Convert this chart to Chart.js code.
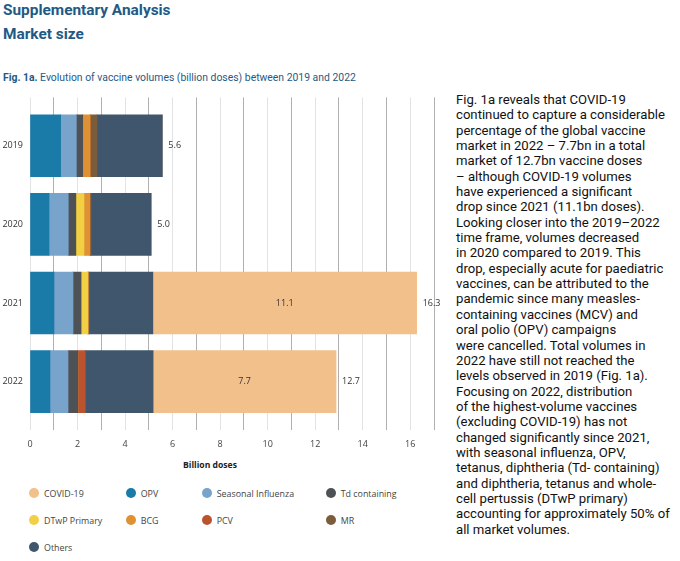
<!DOCTYPE html>
<html>
<head>
<meta charset="utf-8">
<script src="https://cdn.jsdelivr.net/npm/chart.js@4"></script>
<style>
  body { margin: 0; background: #fff; width: 680px; height: 561px; position: relative; overflow: hidden; font-family: Roboto, sans-serif; }
  .head { position: absolute; left: 3px; color: #1f5a86; font-weight: bold; font-size: 15.4px; line-height: 15px; white-space: nowrap; }
  #caption { position: absolute; left: 3px; top: 72px; color: #1f5a86; font-size: 10.4px; line-height: 12px; white-space: nowrap; }
  #chart { position: absolute; left: 0; top: 85px; }
  #axisTitle { position: absolute; left: 160px; width: 100px; top: 459px; text-align: center; font: bold 8.6px "Open Sans", sans-serif; color: #222; }
  #legend { position: absolute; left: 29px; top: 487px; display: grid; grid-template-columns: 96.7px 76px 124px 120px; grid-auto-rows: 27px; font: 8.9px "Open Sans", sans-serif; color: #444; }
  #legend div { display: flex; align-items: center; height: 12px; white-space: nowrap; }
  #legend span { width: 10px; height: 10px; border-radius: 50%; margin-right: 5px; flex: none; }
  #text { position: absolute; left: 456px; top: 92px; font-size: 13.15px; line-height: 15.35px; color: #111; white-space: nowrap; }
</style>
</head>
<body>
<div class="head" style="top:3px">Supplementary Analysis</div>
<div class="head" style="top:27px">Market size</div>
<div id="caption"><b>Fig. 1a.</b> Evolution of vaccine volumes (billion doses) between 2019 and 2022</div>
<canvas id="chart" width="452" height="372"></canvas>
<div id="axisTitle">Billion doses</div>
<div id="legend"></div>
<div id="text">Fig. 1a reveals that COVID-19<br>continued to capture a considerable<br>percentage of the global vaccine<br>market in 2022 – 7.7bn in a total<br>market of 12.7bn vaccine doses<br>– although COVID-19 volumes<br>have experienced a significant<br>drop since 2021 (11.1bn doses).<br>Looking closer into the 2019–2022<br>time frame, volumes decreased<br>in 2020 compared to 2019. This<br>drop, especially acute for paediatric<br>vaccines, can be attributed to the<br>pandemic since many measles-<br>containing vaccines (MCV) and<br>oral polio (OPV) campaigns<br>were cancelled. Total volumes in<br>2022 have still not reached the<br>levels observed in 2019 (Fig. 1a).<br>Focusing on 2022, distribution<br>of the highest-volume vaccines<br>(excluding COVID-19) has not<br>changed significantly since 2021,<br>with seasonal influenza, OPV,<br>tetanus, diphtheria (Td- containing)<br>and diphtheria, tetanus and whole-<br>cell pertussis (DTwP primary)<br>accounting for approximately 50% of<br>all market volumes.</div>
<script>
// values in billion doses
const years = ['2019', '2020', '2021', '2022'];
const opv = [1.29, 0.80, 1.01, 0.84];
const flu = [0.66, 0.81, 0.80, 0.76];
const td = [0.27, 0.32, 0.34, 0.41];
const dtwp = [0, 0.34, 0.29, 0];
const bcg = [0.31, 0.25, 0, 0];
const pcv = [0, 0, 0, 0.31];
const mr = [0.29, 0.05, 0.05, 0];
const others = [2.75, 2.53, 2.68, 2.86];
const covid = [0, 0, 11.1, 7.7];
const totals = [5.6, 5.0, 16.3, 12.7];

// stacking order, left to right
const series = [
    { label: 'OPV', data: opv, color: '#1a7aa8' },
    { label: 'Seasonal Influenza', data: flu, color: '#78a3cb' },
    { label: 'Td containing', data: td, color: '#4e5257' },
    { label: 'DTwP Primary', data: dtwp, color: '#f3cf43' },
    { label: 'BCG', data: bcg, color: '#df9234' },
    { label: 'PCV', data: pcv, color: '#bb532f' },
    { label: 'MR', data: mr, color: '#7b5c3b' },
    { label: 'Others', data: others, color: '#3f566d' },
    { label: 'COVID-19', data: covid, color: '#f2c08a' },
];
const legendOrder = ['COVID-19', 'OPV', 'Seasonal Influenza', 'Td containing', 'DTwP Primary', 'BCG', 'PCV', 'MR', 'Others'];

const font = '"Open Sans", sans-serif';

// segment value inside the COVID bar, total at the end of each bar
const valueLabels = {
    id: 'valueLabels',
    afterDatasetsDraw(chart) {
        const ctx = chart.ctx;
        const meta = chart.getDatasetMeta(chart.data.datasets.length - 1);
        ctx.save();
        ctx.font = '9px ' + font;
        ctx.fillStyle = '#333';
        ctx.textBaseline = 'middle';
        meta.data.forEach((bar, i) => {
            if (covid[i] > 0) {
                ctx.textAlign = 'center';
                ctx.fillText(covid[i].toFixed(1), (bar.x + bar.base) / 2, bar.y);
            }
            ctx.textAlign = 'left';
            ctx.fillText(totals[i].toFixed(1), bar.x + 6, bar.y);
        });
        ctx.restore();
    }
};

new Chart(document.getElementById('chart'), {
    type: 'bar',
    data: {
        datasets: series.map(s => ({
            label: s.label,
            data: s.data.map((v, i) => ({ x: v, y: i })),
            backgroundColor: s.color,
            borderWidth: 0,
            stack: 'total',
            barThickness: 62,
        })),
    },
    options: {
        indexAxis: 'y',
        responsive: false,
        animation: false,
        layout: { padding: { top: 8, right: 18, left: 0, bottom: 0 } },
        plugins: { legend: { display: false }, tooltip: { enabled: false } },
        scales: {
            x: {
                type: 'linear',
                stacked: true,
                min: 0,
                max: 17,
                afterFit: s => { s.height = 27; },
                border: { display: false },
                grid: {
                    drawTicks: false,
                    color: c => (c.tick && c.tick.value % 2 === 1) ? '#b0b0b0' : '#e3e3e3',
                },
                ticks: {
                    stepSize: 1,
                    autoSkip: false,
                    maxRotation: 0,
                    padding: 9,
                    color: '#444',
                    font: { family: font, size: 9 },
                    callback: v => v % 2 === 0 ? v : '',
                },
            },
            y: {
                type: 'linear',
                offset: false,
                min: -0.615,
                max: 3.615,
                reverse: true,
                afterFit: s => { s.width = 30; },
                afterBuildTicks: s => { s.ticks = years.map((_, i) => ({ value: i })); },
                border: { display: false },
                grid: { display: false, drawTicks: false },
                ticks: {
                    padding: 7,
                    color: '#333',
                    font: { family: font, size: 9 },
                    callback: v => years[v],
                },
            },
        },
    },
    plugins: [valueLabels],
});

// legend in four columns
const legend = document.getElementById('legend');
legendOrder.forEach(name => {
    const s = series.find(d => d.label === name);
    const item = document.createElement('div');
    const dot = document.createElement('span');
    dot.style.background = s.color;
    item.appendChild(dot);
    item.appendChild(document.createTextNode(name));
    legend.appendChild(item);
});
</script>
</body>
</html>
